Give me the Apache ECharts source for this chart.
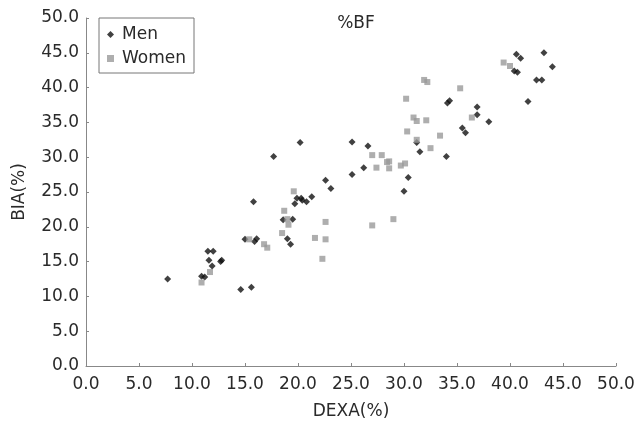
<!DOCTYPE html>
<html>
<head>
<meta charset="utf-8">
<script src="https://cdn.jsdelivr.net/npm/echarts@6/dist/echarts.min.js"></script>
<style>
  html, body { margin: 0; padding: 0; background: #fff; }
  #chart { width: 638px; height: 425px; }
</style>
</head>
<body>
<div id="chart"></div>
<script>
// %BF: DEXA (x) vs BIA (y)
const menDexa = [7.7, 10.9, 11.2, 11.9, 11.6, 11.5, 12.0, 12.8, 12.7, 14.6, 15.6, 15.0, 16.1, 15.9,
  15.8, 17.7, 20.2, 22.6, 23.1, 19.9, 20.3, 20.4, 20.8, 21.3, 19.7, 18.6, 19.5, 19.0, 19.3,
  34.3, 34.1, 31.2, 31.5, 34.0, 25.1, 26.6, 26.2, 25.1, 30.4, 30.0,
  40.6, 41.0, 43.2, 44.0, 40.4, 40.7, 42.5, 43.0, 41.7, 36.9, 36.9, 38.0, 35.5, 35.8]
const menBia = [12.5, 12.9, 12.8, 14.35, 15.2, 16.5, 16.5, 15.2, 15.0, 11.0, 11.3, 18.2, 18.3, 17.9,
  23.6, 30.1, 32.1, 26.7, 25.5, 24.1, 24.1, 23.8, 23.6, 24.3, 23.3, 21.0, 21.1, 18.3, 17.5,
  38.1, 37.8, 32.1, 30.8, 30.1, 32.2, 31.6, 28.5, 27.5, 27.1, 25.1,
  44.8, 44.2, 45.0, 43.0, 42.4, 42.2, 41.1, 41.1, 38.0, 37.2, 36.1, 35.1, 34.2, 33.5]

const womenDexa = [10.9, 11.7, 15.4, 16.8, 17.1, 19.6, 18.7, 19.0, 19.1, 18.5, 22.6, 21.6, 22.6, 22.3,
  30.2, 30.9, 31.2, 32.1, 30.3, 31.2, 33.4, 32.5, 27.0, 27.9, 28.4, 28.6, 27.4, 28.6, 29.7, 30.1,
  29.0, 27.0, 39.4, 40.0, 31.9, 32.2, 35.3, 36.4]
const womenBia = [12.0, 13.5, 18.2, 17.5, 17.0, 25.1, 22.3, 21.1, 20.3, 19.1, 20.7, 18.4, 18.2, 15.4,
  38.4, 35.7, 35.2, 35.3, 33.7, 32.5, 33.1, 31.3, 30.3, 30.3, 29.3, 29.4, 28.5, 28.4, 28.8, 29.1,
  21.1, 20.2, 43.6, 43.1, 41.1, 40.8, 39.9, 35.7]

const pairs = (xs, ys) => xs.map((x, i) => [x, ys[i]])
const font = 'DejaVu Sans, Liberation Sans, sans-serif'
const txt = '#2a2a2a'

const chart = echarts.init(document.getElementById('chart'), null, { renderer: 'canvas' })
chart.setOption({
  animation: false,
  textStyle: { fontFamily: font },
  title: {
    text: '%BF', left: 351, top: 10, textAlign: 'center',
    textStyle: { fontSize: 17, fontWeight: 'normal', color: txt, fontFamily: font }
  },
  legend: {
    orient: 'vertical', left: 99, top: 18,
    padding: [8, 8, 6, 8], itemGap: 7, itemWidth: 7, itemHeight: 7,
    borderColor: '#777', borderWidth: 1, borderRadius: 0,
    textStyle: { fontSize: 17, color: txt, fontFamily: font, padding: [0, 0, 0, 3] },
    data: [{ name: 'Men', icon: 'diamond' }, { name: 'Women', icon: 'rect' }]
  },
  grid: { left: 86, right: 22, top: 18, bottom: 59 },
  xAxis: {
    type: 'value', min: 0, max: 50, interval: 5,
    name: 'DEXA(%)', nameLocation: 'middle', nameGap: 37,
    nameTextStyle: { fontSize: 17, color: txt, fontFamily: font },
    axisLine: { lineStyle: { color: '#888' } },
    axisTick: { inside: true, length: 3, lineStyle: { color: '#888' } },
    axisLabel: { fontSize: 17, color: txt, margin: 10, formatter: v => v.toFixed(1) },
    splitLine: { show: false }
  },
  yAxis: {
    type: 'value', min: 0, max: 50, interval: 5,
    name: 'BIA(%)', nameLocation: 'middle', nameGap: 58, nameRotate: 90,
    nameTextStyle: { fontSize: 17, color: txt, fontFamily: font },
    axisLine: { show: true, lineStyle: { color: '#888' } },
    axisTick: { show: true, inside: true, length: 3, lineStyle: { color: '#888' } },
    axisLabel: { fontSize: 17, color: txt, margin: 7, formatter: v => v.toFixed(1) },
    splitLine: { show: false }
  },
  series: [
    {
      name: 'Men', type: 'scatter', symbol: 'diamond', symbolSize: 7,
      itemStyle: { color: '#111' },
      data: pairs(menDexa, menBia)
    },
    {
      name: 'Women', type: 'scatter', symbol: 'rect', symbolSize: 6,
      itemStyle: { color: '#9a9a9a' },
      data: pairs(womenDexa, womenBia)
    }
  ]
})
</script>
</body>
</html>
